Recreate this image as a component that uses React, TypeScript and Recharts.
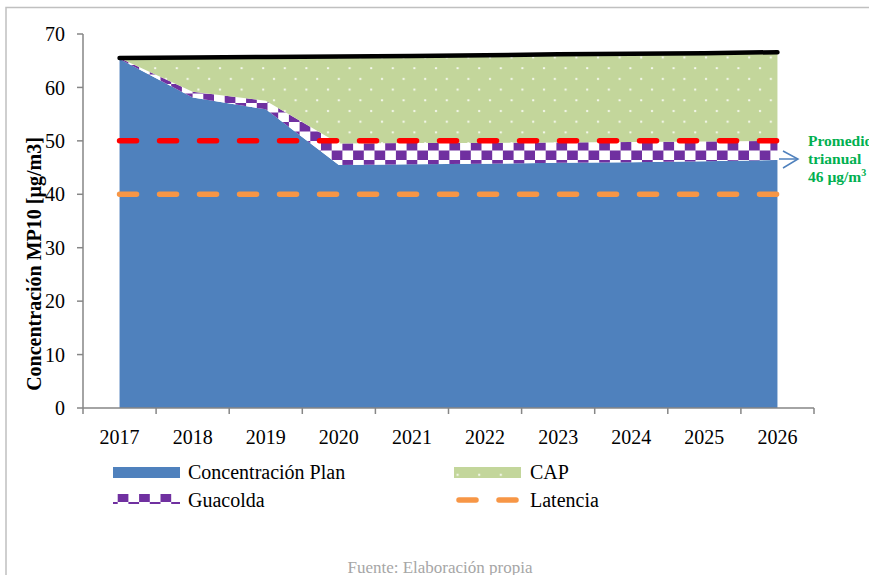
import React from "react";
import { Area, ComposedChart, Line, XAxis, YAxis } from "recharts";

const years = [2017, 2018, 2019, 2020, 2021, 2022, 2023, 2024, 2025, 2026];
const planValues = [65.3, 58.1, 55.9, 45.5, 45.6, 45.7, 45.9, 46.0, 46.2, 46.4];
const guacoldaValues = [0.2, 1.1, 1.6, 4.0, 4.0, 3.9, 3.8, 3.8, 3.7, 3.6];
const capValues = [0.0, 6.4, 8.2, 16.3, 16.3, 16.4, 16.5, 16.5, 16.5, 16.6];
const totalValues = [65.5, 65.6, 65.7, 65.8, 65.9, 66.0, 66.2, 66.3, 66.4, 66.6];
const normaValues = [50, 50, 50, 50, 50, 50, 50, 50, 50, 50];
const latenciaValues = [40, 40, 40, 40, 40, 40, 40, 40, 40, 40];
const yTicks = [0, 10, 20, 30, 40, 50, 60, 70];

const data = years.map((year, i) => ({
  year,
  plan: planValues[i],
  guacolda: guacoldaValues[i],
  cap: capValues[i],
  total: totalValues[i],
  norma: normaValues[i],
  latencia: latenciaValues[i]
}));

// category boundaries get tick marks, category centres get the year label
const xTicks = [...years.map((y) => y - 0.5), years[years.length - 1] + 0.5, ...years].sort(
  (a, b) => a - b
);

const FONT = "'Liberation Serif', 'Times New Roman', serif";
const AXIS_GREY = "#868686";
const BLUE = "#4f81bd";
const GREEN = "#c3d69b";
const PURPLE = "#7030a0";
const ORANGE = "#f79646";

function XTick({ x, y, payload }: any) {
  const v = payload.value as number;
  if (Number.isInteger(v)) {
    return (
      <text x={x} y={y + 36} textAnchor="middle" fontFamily={FONT} fontSize={20} fill="#000">
        {v}
      </text>
    );
  }
  return <line x1={x} x2={x} y1={y} y2={y + 6} stroke={AXIS_GREY} strokeWidth={1.5} />;
}

function Patterns({ prefix }: { prefix: string }) {
  return (
    <defs>
      <pattern id={`${prefix}checker`} width={21.4} height={19} y={141} patternUnits="userSpaceOnUse">
        <rect width={21.4} height={19} fill="#ffffff" />
        <rect x={0} y={0} width={10.7} height={9.5} fill={PURPLE} />
        <rect x={10.7} y={9.5} width={10.7} height={9.5} fill={PURPLE} />
      </pattern>
      <pattern id={`${prefix}dots`} width={21.6} height={21.4} patternUnits="userSpaceOnUse">
        <rect width={21.6} height={21.4} fill={GREEN} />
        <circle cx={4} cy={4} r={1.2} fill="#f6f9ef" />
        <circle cx={14.8} cy={14.7} r={1.2} fill="#f6f9ef" />
      </pattern>
    </defs>
  );
}

export default function App() {
  return (
    <div style={{ position: "absolute", left: 0, top: 0, width: 869, height: 575, background: "#fff" }}>
      <ComposedChart
        width={869}
        height={575}
        data={data}
        margin={{ top: 34, right: 55, left: 0, bottom: 137 }}
      >
        <Patterns prefix="c-" />
        <XAxis
          dataKey="year"
          type="number"
          domain={[2016.5, 2026.5]}
          ticks={xTicks}
          interval={0}
          height={30}
          tickSize={0}
          tickMargin={0}
          tickLine={false}
          tick={<XTick />}
          axisLine={{ stroke: AXIS_GREY, strokeWidth: 1.5 }}
        />
        <YAxis
          domain={[0, 70]}
          ticks={yTicks}
          width={83}
          tickSize={6}
          tickMargin={12}
          tick={{ fill: "#000", fontSize: 20, fontFamily: FONT }}
          tickLine={{ stroke: AXIS_GREY, strokeWidth: 1.5 }}
          axisLine={{ stroke: AXIS_GREY, strokeWidth: 1.5 }}
        />
        <Area
          type="linear"
          dataKey="plan"
          stackId="a"
          fill={BLUE}
          fillOpacity={1}
          stroke="none"
          isAnimationActive={false}
        />
        <Area
          type="linear"
          dataKey="guacolda"
          stackId="a"
          fill="url(#c-checker)"
          fillOpacity={1}
          stroke="none"
          isAnimationActive={false}
        />
        <Area
          type="linear"
          dataKey="cap"
          stackId="a"
          fill="url(#c-dots)"
          fillOpacity={1}
          stroke="none"
          isAnimationActive={false}
        />
        <Line
          type="linear"
          dataKey="latencia"
          stroke={ORANGE}
          strokeWidth={5.5}
          strokeDasharray="17 23"
          strokeLinecap="round"
          dot={false}
          isAnimationActive={false}
        />
        <Line
          type="linear"
          dataKey="norma"
          stroke="#ff0000"
          strokeWidth={5.5}
          strokeDasharray="17 23"
          strokeLinecap="round"
          dot={false}
          isAnimationActive={false}
        />
        <Line
          type="linear"
          dataKey="total"
          stroke="#000"
          strokeWidth={4.5}
          strokeLinecap="round"
          dot={false}
          isAnimationActive={false}
        />
      </ComposedChart>

      <svg
        width={869}
        height={575}
        style={{ position: "absolute", left: 0, top: 0, pointerEvents: "none" }}
      >
        <Patterns prefix="l-" />
        <rect x={6} y={7.5} width={900} height={600} fill="none" stroke="#c0c0c0" strokeWidth={1.5} />

        <text
          transform="translate(41 264) rotate(-90)"
          textAnchor="middle"
          fontFamily={FONT}
          fontSize={20}
          fontWeight="bold"
          fill="#000"
        >
          Concentración MP10 [µg/m3]
        </text>

        <g stroke={BLUE} strokeWidth={1.5} fill="none">
          <line x1={779} y1={159} x2={798} y2={159} />
          <polyline points="783,151 798,159 783,168" />
        </g>
        <g fontFamily={FONT} fontSize={15.5} fontWeight="bold" fill="#00b050">
          <text x={808} y={146}>Promedio</text>
          <text x={808} y={164}>trianual</text>
          <text x={808} y={182}>
            46 µg/m<tspan dy={-6} fontSize={10}>3</tspan>
          </text>
        </g>

        <g fontFamily={FONT} fontSize={20} fill="#000">
          <rect x={113} y={467} width={67} height={11} fill={BLUE} />
          <text x={188} y={479}>Concentración Plan</text>
          <rect x={454} y={467} width={67} height={11} fill="url(#l-dots)" />
          <text x={530} y={479}>CAP</text>
          <rect x={113} y={494} width={67} height={10} fill="url(#l-checker)" />
          <text x={188} y={507}>Guacolda</text>
          <line
            x1={459}
            y1={500}
            x2={519}
            y2={500}
            stroke={ORANGE}
            strokeWidth={5.5}
            strokeDasharray="17 23"
            strokeLinecap="round"
          />
          <text x={530} y={507}>Latencia</text>
        </g>

        <text x={440} y={573} textAnchor="middle" fontFamily={FONT} fontSize={17} fill="#a6a6a6">
          Fuente: Elaboración propia
        </text>
      </svg>
    </div>
  );
}
